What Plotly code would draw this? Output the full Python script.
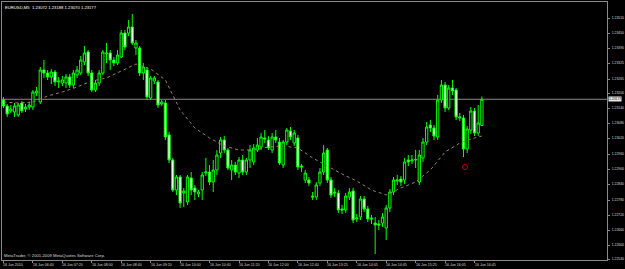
import plotly.graph_objects as go

# ---- data (EURUSD, M5, 16 Jun 2010) ----
opens = [1.23174, 1.23150, 1.23130, 1.23126, 1.23114, 1.23162, 1.23138, 1.23146, 1.23146, 1.23202,
         1.23166, 1.23294, 1.23282, 1.23266, 1.23286, 1.23246, 1.23242, 1.23242, 1.23266, 1.23234,
         1.23274, 1.23282, 1.23326, 1.23366, 1.23282, 1.23214, 1.23242, 1.23282, 1.23358, 1.23362,
         1.23334, 1.23322, 1.23346, 1.23442, 1.23442, 1.23466, 1.23382, 1.23382, 1.23282, 1.23294,
         1.23182, 1.23250, 1.23246, 1.23158, 1.23162, 1.23034, 1.22934, 1.22814, 1.22866, 1.22802,
         1.22766, 1.22862, 1.22822, 1.22798, 1.22814, 1.22882, 1.22886, 1.22846, 1.22894, 1.22962,
         1.23014, 1.22974, 1.22894, 1.22914, 1.22882, 1.22934, 1.22886, 1.22934, 1.22926, 1.22974,
         1.22986, 1.23022, 1.23014, 1.22974, 1.23026, 1.23006, 1.22914, 1.23006, 1.23050, 1.23002,
         1.23022, 1.22910, 1.22854, 1.22854, 1.22790, 1.22786, 1.22842, 1.22886, 1.22974, 1.22854,
         1.22806, 1.22802, 1.22738, 1.22734, 1.22786, 1.22810, 1.22698, 1.22706, 1.22778, 1.22738,
         1.22702, 1.22682, 1.22678, 1.22682, 1.22662, 1.22742, 1.22806, 1.22850, 1.22858, 1.22854,
         1.22934, 1.22930, 1.22934, 1.22846, 1.22942, 1.23006, 1.23074, 1.23062, 1.23026, 1.23174,
         1.23234, 1.23142, 1.23222, 1.23214, 1.23102, 1.23102, 1.22978, 1.23054, 1.23130, 1.23042,
         1.23072]
highs = [1.23186, 1.23158, 1.23154, 1.23162, 1.23162, 1.23170, 1.23158, 1.23166, 1.23214, 1.23226,
         1.23306, 1.23334, 1.23294, 1.23298, 1.23294, 1.23266, 1.23270, 1.23278, 1.23278, 1.23294,
         1.23310, 1.23350, 1.23390, 1.23374, 1.23294, 1.23254, 1.23294, 1.23374, 1.23402, 1.23374,
         1.23346, 1.23374, 1.23454, 1.23454, 1.23494, 1.23518, 1.23414, 1.23390, 1.23322, 1.23306,
         1.23270, 1.23270, 1.23254, 1.23174, 1.23174, 1.23046, 1.22942, 1.22874, 1.22874, 1.22822,
         1.22874, 1.22886, 1.22834, 1.22814, 1.22886, 1.22942, 1.22914, 1.22934, 1.22974, 1.23026,
         1.23030, 1.22982, 1.22934, 1.22926, 1.22946, 1.22954, 1.22942, 1.22994, 1.22998, 1.23022,
         1.23042, 1.23054, 1.23030, 1.23042, 1.23054, 1.23022, 1.23014, 1.23062, 1.23066, 1.23054,
         1.23034, 1.22918, 1.22894, 1.22866, 1.22806, 1.22846, 1.22902, 1.22994, 1.22982, 1.22866,
         1.22822, 1.22814, 1.22754, 1.22802, 1.22822, 1.22822, 1.22718, 1.22790, 1.22790, 1.22750,
         1.22714, 1.22706, 1.22694, 1.22722, 1.22754, 1.22818, 1.22866, 1.22874, 1.22870, 1.22942,
         1.22954, 1.22954, 1.22974, 1.22974, 1.23022, 1.23086, 1.23094, 1.23074, 1.23194, 1.23254,
         1.23246, 1.23234, 1.23254, 1.23222, 1.23122, 1.23114, 1.23070, 1.23146, 1.23142, 1.23154,
         1.23188]
lows = [1.23142, 1.23106, 1.23122, 1.23106, 1.23106, 1.23122, 1.23126, 1.23134, 1.23134, 1.23190,
        1.23158, 1.23262, 1.23254, 1.23238, 1.23230, 1.23222, 1.23230, 1.23222, 1.23222, 1.23222,
        1.23262, 1.23274, 1.23314, 1.23270, 1.23206, 1.23206, 1.23230, 1.23274, 1.23322, 1.23294,
        1.23310, 1.23314, 1.23342, 1.23374, 1.23430, 1.23394, 1.23354, 1.23270, 1.23254, 1.23174,
        1.23174, 1.23238, 1.23142, 1.23150, 1.23014, 1.22922, 1.22806, 1.22794, 1.22742, 1.22746,
        1.22754, 1.22794, 1.22774, 1.22786, 1.22774, 1.22870, 1.22834, 1.22806, 1.22874, 1.22942,
        1.22962, 1.22894, 1.22854, 1.22874, 1.22862, 1.22874, 1.22874, 1.22902, 1.22914, 1.22966,
        1.22974, 1.23002, 1.22974, 1.22962, 1.23002, 1.22914, 1.22902, 1.22994, 1.23014, 1.22990,
        1.22894, 1.22886, 1.22842, 1.22830, 1.22774, 1.22774, 1.22830, 1.22874, 1.22842, 1.22782,
        1.22786, 1.22722, 1.22718, 1.22722, 1.22774, 1.22682, 1.22686, 1.22694, 1.22726, 1.22686,
        1.22678, 1.22558, 1.22654, 1.22666, 1.22614, 1.22726, 1.22794, 1.22834, 1.22830, 1.22838,
        1.22910, 1.22918, 1.22902, 1.22834, 1.22926, 1.22994, 1.23046, 1.23014, 1.23014, 1.23162,
        1.23126, 1.23134, 1.23194, 1.23094, 1.23090, 1.22946, 1.22962, 1.23038, 1.23030, 1.23030,
        1.23070]
closes = [1.23150, 1.23118, 1.23138, 1.23150, 1.23154, 1.23130, 1.23146, 1.23154, 1.23206, 1.23210,
          1.23294, 1.23282, 1.23266, 1.23286, 1.23246, 1.23250, 1.23254, 1.23266, 1.23234, 1.23282,
          1.23294, 1.23334, 1.23362, 1.23282, 1.23214, 1.23242, 1.23282, 1.23366, 1.23362, 1.23334,
          1.23322, 1.23354, 1.23442, 1.23386, 1.23466, 1.23402, 1.23402, 1.23282, 1.23306, 1.23186,
          1.23262, 1.23262, 1.23154, 1.23166, 1.23026, 1.22934, 1.22814, 1.22866, 1.22762, 1.22810,
          1.22866, 1.22814, 1.22806, 1.22806, 1.22874, 1.22886, 1.22846, 1.22894, 1.22954, 1.23014,
          1.22974, 1.22902, 1.22914, 1.22886, 1.22934, 1.22886, 1.22934, 1.22974, 1.22982, 1.22994,
          1.23026, 1.23018, 1.22982, 1.23026, 1.23014, 1.22922, 1.23006, 1.23054, 1.23026, 1.23042,
          1.22906, 1.22906, 1.22882, 1.22842, 1.22786, 1.22834, 1.22886, 1.22962, 1.22854, 1.22794,
          1.22802, 1.22734, 1.22734, 1.22790, 1.22806, 1.22694, 1.22702, 1.22778, 1.22738, 1.22698,
          1.22698, 1.22674, 1.22674, 1.22706, 1.22742, 1.22806, 1.22854, 1.22854, 1.22846, 1.22926,
          1.22926, 1.22934, 1.22936, 1.22954, 1.23006, 1.23066, 1.23062, 1.23030, 1.23174, 1.23234,
          1.23142, 1.23222, 1.23210, 1.23106, 1.23106, 1.22978, 1.23058, 1.23130, 1.23042, 1.23082,
          1.23177]

# moving average (dotted line), sampled every 4 bars
ma_bars = [0, 4, 8, 12, 16, 20, 24, 28, 32, 36, 40, 44, 48, 52, 56, 60, 64,
           68, 72, 76, 80, 84, 88, 92, 96, 100, 104, 108, 112, 116, 120, 124, 128, 130]
ma_vals = [1.23166, 1.23162, 1.23166, 1.23190, 1.23206, 1.23226, 1.23250, 1.23262, 1.23290,
           1.23318, 1.23298, 1.23254, 1.23134, 1.23062, 1.23022, 1.22990, 1.22974, 1.22974,
           1.22986, 1.22990, 1.22982, 1.22942, 1.22910, 1.22878, 1.22850, 1.22814, 1.22794,
           1.22822, 1.22846, 1.22894, 1.22966, 1.23002, 1.23022, 1.23030]

tick_bars = [0, 8, 16, 24, 32, 40, 48, 56, 64, 72, 80, 88, 96, 104, 112, 120, 128]
tick_text = ["16 Jun 2010", "16 Jun 06:40", "16 Jun 07:20", "16 Jun 08:00", "16 Jun 08:40",
             "16 Jun 09:20", "16 Jun 10:00", "16 Jun 10:40", "16 Jun 11:20", "16 Jun 12:00",
             "16 Jun 12:40", "16 Jun 13:25", "16 Jun 14:05", "16 Jun 14:45", "16 Jun 15:25",
             "16 Jun 16:05", "16 Jun 16:45"]

price_ticks = [1.23570, 1.23502, 1.23442, 1.23382, 1.23322, 1.23258, 1.23202, 1.23142, 1.23082,
               1.23022, 1.22958, 1.22898, 1.22838, 1.22774, 1.22714, 1.22654, 1.22594, 1.22538]
price_labels = ["1.23570", "1.23510", "1.23450", "1.23390", "1.23325", "1.23265", "1.23200",
                "1.23140", "1.23080", "1.23020", "1.22960", "1.22900", "1.22840", "1.22780",
                "1.22720", "1.22660", "1.22600", "1.22540"]

last_price = 1.23177
signal_bar = [125.4]
signal_price = [1.22906]

title_text = "EURUSD,M5  1.23072 1.23188 1.23070 1.23177"
copyright_text = "MetaTrader, © 2001-2009 MetaQuotes Software Corp."

FONT = "Liberation Sans"
GRAY = "#8a8a8a"

fig = go.Figure()
fig.add_trace(go.Scatter(x=ma_bars, y=ma_vals, mode="lines",
                         line=dict(color="#9c806a", width=1, dash="dot"), hoverinfo="skip"))
fig.add_trace(go.Candlestick(
    x=list(range(len(opens))), open=opens, high=highs, low=lows, close=closes,
    increasing=dict(line=dict(color="#00FF00", width=1), fillcolor="#000000"),
    decreasing=dict(line=dict(color="#00FF00", width=1), fillcolor="#FFFFFF"),
    whiskerwidth=0))
fig.add_trace(go.Scatter(x=signal_bar, y=signal_price, mode="markers",
                         marker=dict(symbol="circle-open", size=5, color="#C00000",
                                     line=dict(width=1, color="#C00000"))))

fig.add_shape(type="line", xref="paper", x0=0, x1=1, yref="y", y0=last_price, y1=last_price,
              line=dict(color=GRAY, width=1), layer="below")

annotations = []
for b, t in zip(tick_bars, tick_text):
    annotations.append(dict(x=b, xref="x", y=0, yref="paper", text=t, showarrow=False,
                            xanchor="left", yanchor="top", xshift=-2, yshift=-1,
                            font=dict(size=3.6, color="#d8d8d8", family=FONT)))
annotations.append(dict(x=0, xref="paper", y=1, yref="paper", text=title_text, showarrow=False,
                        xanchor="left", yanchor="top", xshift=1, yshift=-1,
                        font=dict(size=4.2, color="#ffffff", family=FONT)))
annotations.append(dict(x=0, xref="paper", y=0, yref="paper", text=copyright_text,
                        showarrow=False, xanchor="left", yanchor="bottom", xshift=0, yshift=0,
                        font=dict(size=4.2, color="#d8d8d8", family=FONT)))
annotations.append(dict(x=1, xref="paper", y=last_price, yref="y", text=f"{last_price:.5f}",
                        showarrow=False, xanchor="left", yanchor="middle", xshift=1,
                        bgcolor="#e8e8e8", borderpad=0,
                        font=dict(size=3.4, color="#000000", family=FONT)))

fig.update_layout(
    width=625, height=269,
    margin=dict(l=2, r=18, t=2, b=9, pad=0),
    paper_bgcolor="#000000", plot_bgcolor="#000000",
    showlegend=False,
    boxgap=0.12,
    annotations=annotations,
    xaxis=dict(range=[-0.4, 164.0], showgrid=False, zeroline=False, showline=True, mirror=True,
               linecolor=GRAY, linewidth=1, ticks="outside", ticklen=2, tickcolor=GRAY,
               tickvals=tick_bars, showticklabels=False, automargin=False,
               rangeslider=dict(visible=False), fixedrange=True),
    yaxis=dict(range=[1.22534, 1.23566], side="right", showgrid=False, zeroline=False,
               showline=True, mirror=True, linecolor=GRAY, linewidth=1, ticks="outside",
               ticklen=2, tickcolor=GRAY, tickvals=price_ticks, ticktext=price_labels,
               ticklabelstandoff=1,
               tickfont=dict(size=3.4, color="#d8d8d8", family=FONT), automargin=False,
               fixedrange=True),
)

fig.write_html("out.html")
